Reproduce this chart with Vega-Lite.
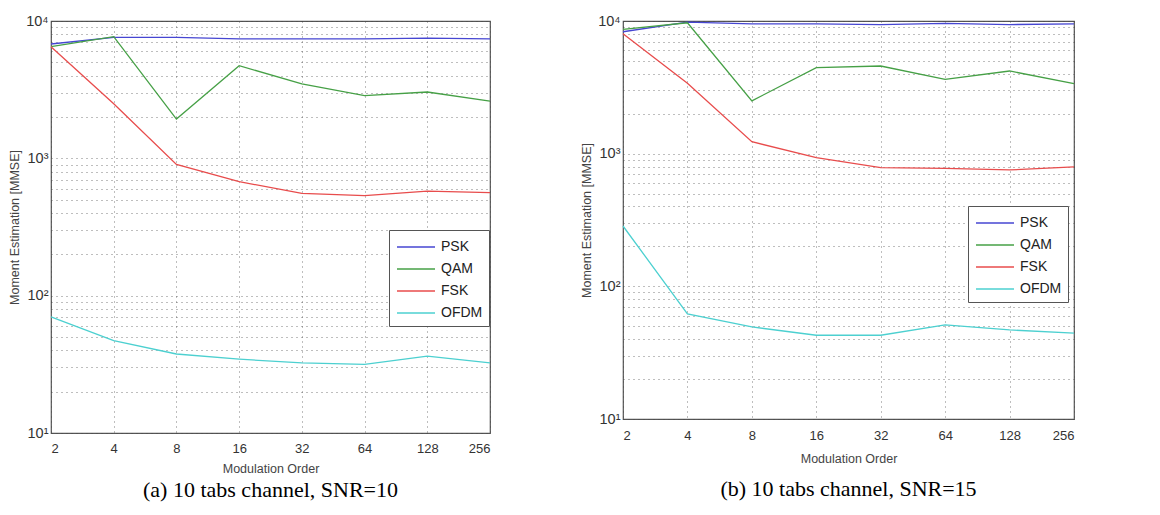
{
  "$schema": "https://vega.github.io/schema/vega-lite/v6.json",
  "background": "white",
  "padding": {"left": 8, "top": 12, "right": 5, "bottom": 5},
  "spacing": 86,
  "datasets": {
    "d": [
      {"panel": "a", "mod": "PSK", "order": 2, "value": 6800},
      {"panel": "a", "mod": "PSK", "order": 4, "value": 7600},
      {"panel": "a", "mod": "PSK", "order": 8, "value": 7600},
      {"panel": "a", "mod": "PSK", "order": 16, "value": 7400},
      {"panel": "a", "mod": "PSK", "order": 32, "value": 7400},
      {"panel": "a", "mod": "PSK", "order": 64, "value": 7400},
      {"panel": "a", "mod": "PSK", "order": 128, "value": 7500},
      {"panel": "a", "mod": "PSK", "order": 256, "value": 7400},
      {"panel": "a", "mod": "QAM", "order": 2, "value": 6500},
      {"panel": "a", "mod": "QAM", "order": 4, "value": 7700},
      {"panel": "a", "mod": "QAM", "order": 8, "value": 1930},
      {"panel": "a", "mod": "QAM", "order": 16, "value": 4730},
      {"panel": "a", "mod": "QAM", "order": 32, "value": 3480},
      {"panel": "a", "mod": "QAM", "order": 64, "value": 2860},
      {"panel": "a", "mod": "QAM", "order": 128, "value": 3040},
      {"panel": "a", "mod": "QAM", "order": 256, "value": 2610},
      {"panel": "a", "mod": "FSK", "order": 2, "value": 6500},
      {"panel": "a", "mod": "FSK", "order": 4, "value": 2500},
      {"panel": "a", "mod": "FSK", "order": 8, "value": 904},
      {"panel": "a", "mod": "FSK", "order": 16, "value": 676},
      {"panel": "a", "mod": "FSK", "order": 32, "value": 556},
      {"panel": "a", "mod": "FSK", "order": 64, "value": 535},
      {"panel": "a", "mod": "FSK", "order": 128, "value": 578},
      {"panel": "a", "mod": "FSK", "order": 256, "value": 562},
      {"panel": "a", "mod": "OFDM", "order": 2, "value": 70},
      {"panel": "a", "mod": "OFDM", "order": 4, "value": 47},
      {"panel": "a", "mod": "OFDM", "order": 8, "value": 37.6},
      {"panel": "a", "mod": "OFDM", "order": 16, "value": 34.5},
      {"panel": "a", "mod": "OFDM", "order": 32, "value": 32.4},
      {"panel": "a", "mod": "OFDM", "order": 64, "value": 31.6},
      {"panel": "a", "mod": "OFDM", "order": 128, "value": 36.3},
      {"panel": "a", "mod": "OFDM", "order": 256, "value": 32.4},
      {"panel": "b", "mod": "PSK", "order": 2, "value": 8300},
      {"panel": "b", "mod": "PSK", "order": 4, "value": 9800},
      {"panel": "b", "mod": "PSK", "order": 8, "value": 9500},
      {"panel": "b", "mod": "PSK", "order": 16, "value": 9500},
      {"panel": "b", "mod": "PSK", "order": 32, "value": 9400},
      {"panel": "b", "mod": "PSK", "order": 64, "value": 9600},
      {"panel": "b", "mod": "PSK", "order": 128, "value": 9400},
      {"panel": "b", "mod": "PSK", "order": 256, "value": 9500},
      {"panel": "b", "mod": "QAM", "order": 2, "value": 8650},
      {"panel": "b", "mod": "QAM", "order": 4, "value": 9700},
      {"panel": "b", "mod": "QAM", "order": 8, "value": 2500},
      {"panel": "b", "mod": "QAM", "order": 16, "value": 4450},
      {"panel": "b", "mod": "QAM", "order": 32, "value": 4580},
      {"panel": "b", "mod": "QAM", "order": 64, "value": 3630},
      {"panel": "b", "mod": "QAM", "order": 128, "value": 4200},
      {"panel": "b", "mod": "QAM", "order": 256, "value": 3370},
      {"panel": "b", "mod": "FSK", "order": 2, "value": 8020},
      {"panel": "b", "mod": "FSK", "order": 4, "value": 3400},
      {"panel": "b", "mod": "FSK", "order": 8, "value": 1230},
      {"panel": "b", "mod": "FSK", "order": 16, "value": 933},
      {"panel": "b", "mod": "FSK", "order": 32, "value": 785},
      {"panel": "b", "mod": "FSK", "order": 64, "value": 776},
      {"panel": "b", "mod": "FSK", "order": 128, "value": 754},
      {"panel": "b", "mod": "FSK", "order": 256, "value": 794},
      {"panel": "b", "mod": "OFDM", "order": 2, "value": 285},
      {"panel": "b", "mod": "OFDM", "order": 4, "value": 62},
      {"panel": "b", "mod": "OFDM", "order": 8, "value": 49.4},
      {"panel": "b", "mod": "OFDM", "order": 16, "value": 42.8},
      {"panel": "b", "mod": "OFDM", "order": 32, "value": 42.8},
      {"panel": "b", "mod": "OFDM", "order": 64, "value": 51.2},
      {"panel": "b", "mod": "OFDM", "order": 128, "value": 46.9},
      {"panel": "b", "mod": "OFDM", "order": 256, "value": 44.4}
    ]
  },
  "config": {
    "font": "Liberation Sans",
    "view": {"stroke": "#555555", "strokeWidth": 1.2},
    "axis": {
      "labelFont": "Liberation Sans",
      "titleFont": "Liberation Sans",
      "labelFontSize": 13,
      "titleFontSize": 12.5,
      "labelColor": "#333333",
      "titleColor": "#444444",
      "titleFontWeight": "normal",
      "domain": false,
      "ticks": false,
      "grid": true,
      "gridColor": "#444444",
      "gridDash": [1, 4],
      "gridOpacity": 0.7,
      "gridWidth": 1
    },
    "axisY": {"labelFontSize": 14.5},
    "title": {
      "font": "Liberation Serif",
      "fontSize": 22,
      "fontWeight": "normal",
      "color": "#000000",
      "orient": "bottom"
    },
    "legend": {
      "labelFont": "Liberation Sans",
      "labelFontSize": 14,
      "labelColor": "#222222",
      "labelOffset": 14,
      "symbolOffset": 10,
      "symbolType": "M-1.9,0H1.9",
      "symbolSize": 400,
      "symbolStrokeWidth": 1.5,
      "strokeColor": "#555555",
      "fillColor": "white",
      "padding": 6,
      "rowPadding": 4,
      "title": null
    }
  },
  "hconcat": [
    {
      "width": 439,
      "height": 412,
      "title": {"text": "(a) 10 tabs channel, SNR=10", "offset": 5},
      "data": {"name": "d"},
      "transform": [{"filter": "datum.panel == 'a'"}],
      "mark": {"type": "line", "strokeWidth": 1.3},
      "encoding": {
        "x": {
          "field": "order", "type": "quantitative",
          "scale": {"type": "log", "base": 2, "domain": [2, 256], "nice": false},
          "axis": {"values": [2, 4, 8, 16, 32, 64, 128, 256], "format": "d", "title": "Modulation Order", "labelPadding": 9, "titlePadding": 7}
        },
        "y": {
          "field": "value", "type": "quantitative",
          "scale": {"type": "log", "domain": [10, 10000], "nice": false},
          "axis": {
            "values": [10, 20, 30, 40, 50, 60, 70, 80, 90, 100, 200, 300, 400, 500, 600, 700, 800, 900, 1000, 2000, 3000, 4000, 5000, 6000, 7000, 8000, 9000, 10000],
            "labelExpr": "datum.value == 10 ? '10¹' : datum.value == 100 ? '10²' : datum.value == 1000 ? '10³' : datum.value == 10000 ? '10⁴' : ''",
            "title": "Moment Estimation [MMSE]",
            "labelPadding": 3,
            "titlePadding": 4
          }
        },
        "color": {
          "field": "mod", "type": "nominal",
          "scale": {"domain": ["PSK", "QAM", "FSK", "OFDM"], "range": ["#4646d2", "#46a046", "#e84c4c", "#4cd0d0"]},
          "legend": {"orient": "none", "legendX": 338, "legendY": 209}
        }
      }
    },
    {
      "width": 451,
      "height": 398,
      "title": {"text": "(b) 10 tabs channel, SNR=15", "offset": 14},
      "data": {"name": "d"},
      "transform": [{"filter": "datum.panel == 'b'"}],
      "mark": {"type": "line", "strokeWidth": 1.3},
      "encoding": {
        "x": {
          "field": "order", "type": "quantitative",
          "scale": {"type": "log", "base": 2, "domain": [2, 256], "nice": false},
          "axis": {"values": [2, 4, 8, 16, 32, 64, 128, 256], "format": "d", "title": "Modulation Order", "labelPadding": 10, "titlePadding": 10}
        },
        "y": {
          "field": "value", "type": "quantitative",
          "scale": {"type": "log", "domain": [10, 10000], "nice": false},
          "axis": {
            "values": [10, 20, 30, 40, 50, 60, 70, 80, 90, 100, 200, 300, 400, 500, 600, 700, 800, 900, 1000, 2000, 3000, 4000, 5000, 6000, 7000, 8000, 9000, 10000],
            "labelExpr": "datum.value == 10 ? '10¹' : datum.value == 100 ? '10²' : datum.value == 1000 ? '10³' : datum.value == 10000 ? '10⁴' : ''",
            "title": "Moment Estimation [MMSE]",
            "labelPadding": 3,
            "titlePadding": 4
          }
        },
        "color": {
          "field": "mod", "type": "nominal",
          "scale": {"domain": ["PSK", "QAM", "FSK", "OFDM"], "range": ["#4646d2", "#46a046", "#e84c4c", "#4cd0d0"]},
          "legend": {"orient": "none", "legendX": 345, "legendY": 185}
        }
      }
    }
  ],
  "resolve": {"scale": {"color": "independent"}, "legend": {"color": "independent"}}
}
